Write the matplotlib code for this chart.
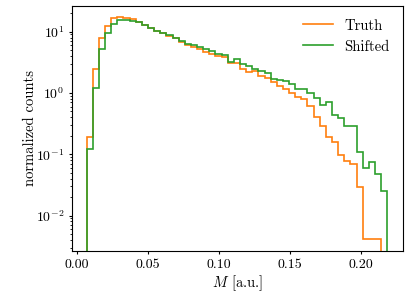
import numpy as np
import matplotlib
matplotlib.use('Agg')
import matplotlib.pyplot as plt

# LaTeX-like look without needing a TeX install
plt.rcParams['font.family'] = 'serif'
plt.rcParams['font.serif'] = ['cmr10']
plt.rcParams['mathtext.fontset'] = 'cm'
plt.rcParams['axes.formatter.use_mathtext'] = True
plt.rcParams['font.size'] = 10.5
plt.rcParams['xtick.labelsize'] = 10
plt.rcParams['ytick.labelsize'] = 10
plt.rcParams['xtick.major.size'] = 2.2
plt.rcParams['ytick.major.size'] = 2.2
plt.rcParams['xtick.minor.size'] = 1.5
plt.rcParams['ytick.minor.size'] = 1.5

# Common binning (49 bins)
bin_lo = 0.00703
bin_hi = 0.2184
n_bins = 49

# normalized counts per bin
truth = [0.19, 2.47, 7.8, 12.5, 16.6, 17.6, 16.9, 15.8, 14.6, 12.9,
         11.4, 10.3, 9.6, 8.5, 8.0, 6.9, 6.15, 5.7, 5.2, 4.7,
         4.3, 4.0, 3.8, 3.05, 3.05, 2.49, 2.18, 2.24, 1.89, 1.76,
         1.51, 1.32, 1.15, 1.0, 0.87, 0.80, 0.61, 0.41, 0.29, 0.19,
         0.16, 0.098, 0.077, 0.069, 0.029, 0.0041, 0.0041, 0.0041, 0.0]
shifted = [0.12, 1.22, 5.2, 9.4, 13.4, 15.5, 15.5, 15.0, 14.3, 12.9,
           11.4, 10.4, 9.5, 8.9, 7.9, 7.1, 6.3, 6.1, 5.6, 5.2,
           4.8, 4.4, 4.1, 3.2, 3.6, 2.94, 2.79, 2.44, 2.24, 2.12,
           1.69, 1.63, 1.55, 1.42, 1.17, 1.15, 0.99, 0.82, 0.64, 0.70,
           0.44, 0.39, 0.29, 0.29, 0.11, 0.060, 0.076, 0.047, 0.025]

edges = np.linspace(bin_lo, bin_hi, n_bins + 1)

fig = plt.figure(figsize=(4.07, 3.05), dpi=100)
ax = fig.add_axes([72.3 / 407, 1 - 250.7 / 305, (402.7 - 72.3) / 407, (250.7 - 5.7) / 305])

ax.stairs(truth, edges, color='C1', label='Truth', linewidth=1.2)
ax.stairs(shifted, edges, color='C2', label='Shifted', linewidth=1.2)

ax.set_yscale('log')
ax.set_xlim(-0.0031, 0.2293)
ax.set_ylim(0.00267, 26.5)
ax.set_xticks([0.0, 0.05, 0.10, 0.15, 0.20])
ax.set_xticklabels(['0.00', '0.05', '0.10', '0.15', '0.20'])
ax.set_xlabel(r'$M$ [a.u.]', labelpad=2)
ax.set_ylabel('normalized counts', labelpad=-1)
ax.legend(loc='upper right', frameon=False, fontsize=10.5)

fig.savefig('out.png', dpi=100)
